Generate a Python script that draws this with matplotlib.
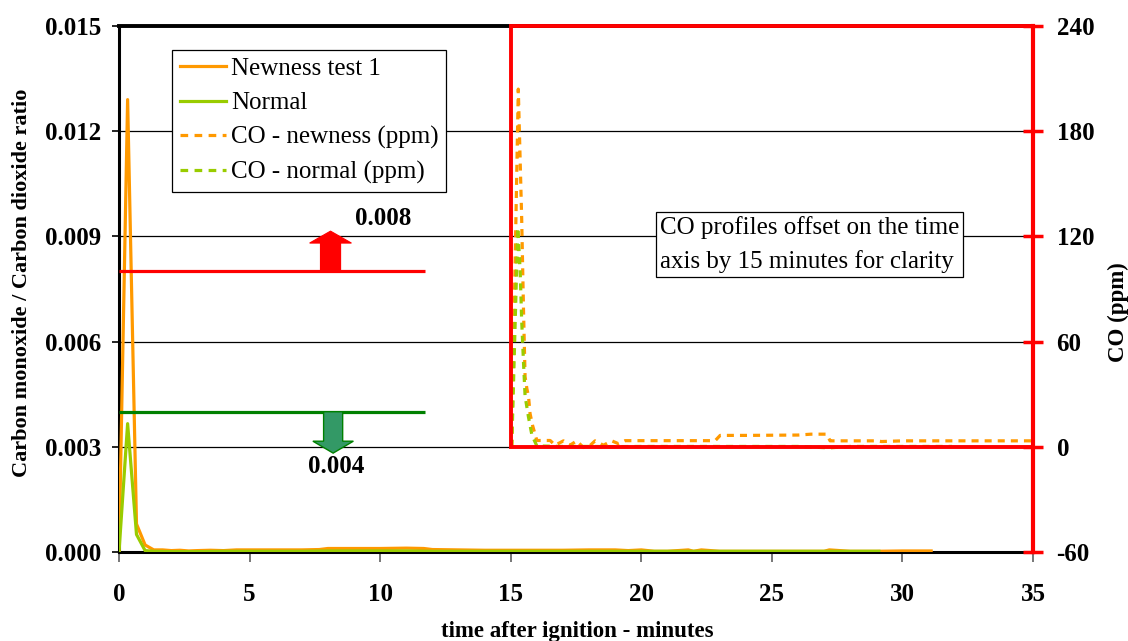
import matplotlib
matplotlib.use("Agg")
import matplotlib.pyplot as plt
from matplotlib.patches import Rectangle, FancyArrow
import numpy as np

plt.rcParams['font.family'] = ['Liberation Serif', 'DejaVu Serif']

# CO / CO2 ratio, newness test 1 (time in minutes after ignition)
newness_time = [0, 0.33, 0.67, 1.0, 1.33, 1.67, 2.0, 2.33, 2.67, 3.0, 3.5, 4.0, 4.5, 5.0,
                6.0, 7.0, 7.67, 8.0, 9.0, 10.0, 11.0, 11.67, 12.0, 13.0, 14.0, 15.0, 16.0,
                17.0, 18.0, 19.0, 19.5, 20.0, 20.5, 21.0, 21.8, 22.0, 22.3, 23.0, 24.0,
                25.0, 26.0, 27.0, 27.2, 28.0, 29.0, 30.0, 31.1]
newness_ratio = [0, 0.0129, 0.0008, 0.0002, 0.00006, 0.00006, 0.00004, 0.00005, 0.00003,
                 0.00004, 0.00005, 0.00004, 0.00006, 0.00006, 0.00006, 0.00006, 0.00007,
                 0.0001, 0.0001, 0.0001, 0.00011, 0.0001, 0.00007, 0.00006, 0.00005,
                 0.00005, 0.00005, 0.00005, 0.00006, 0.00006, 0.00004, 0.00006, 0.00002,
                 0.00002, 0.00006, 0.00002, 0.00006, 0.00002, 0.00002, 0.00002, 0.00002,
                 0.00002, 0.00006, 0.00002, 0.00002, 0.00003, 0.00003]

# CO / CO2 ratio, normal test
normal_time = [0, 0.33, 0.67, 1.0, 1.33, 2, 3, 4, 5, 6, 7, 8, 9, 10, 11, 12, 13, 14, 15,
               16, 17, 18, 19, 20, 21, 22, 23, 24, 25, 26, 27, 28, 29.1]
normal_ratio = [0, 0.00366, 0.0005, 0.00004, 0.00002, 0.00001, 0.00001, 0.00002, 0.00002,
                0.00002, 0.00002, 0.00003, 0.00003, 0.00003, 0.00003, 0.00002, 0.00002,
                0.00002, 0.00002, 0.00002, 0.00002, 0.00002, 0.00002, 0.00002, 0.00002,
                0.00002, 0.00002, 0.00002, 0.00002, 0.00002, 0.00002, 0.00002, 0.00002]

# CO concentration (ppm), newness test
co_newness_time = [0.04, 0.29, 0.42, 0.49, 0.55, 0.62, 0.68, 0.74, 0.84, 1.0, 1.25, 1.51,
                   1.70, 2.02, 2.27, 2.53, 2.78, 3.0, 3.23, 3.55, 3.87, 4.12, 4.38, 5.5,
                   6.5, 7.5, 7.83, 8.02, 9.0, 10.0, 11.0, 11.5, 12.1, 12.23, 12.3, 13.0,
                   14.0, 14.2, 15.0, 16.0, 17.0, 18.0, 19.0, 20.0]
co_newness_ppm = [0, 204, 130, 78, 40, 33, 29, 19, 12, 3.6, 3.6, 3.6, 0.9, 3.4, 0.9, 3.4,
                  -0.4, 0.2, 3.4, 0.9, 3.4, 1.8, 3.5, 3.5, 3.5, 3.5, 3.5, 6.5, 6.5, 6.6,
                  6.7, 7.2, 7.2, 3.4, 3.4, 3.4, 3.4, 3.0, 3.4, 3.4, 3.4, 3.4, 3.4, 3.4]

# CO concentration (ppm), normal test
co_normal_time = [0.04, 0.27, 0.36, 0.42, 0.49, 0.55, 0.68, 0.81, 1.0, 2.0, 3.0, 4.0, 5.0,
                  6.0, 7.0, 8.0, 9.0, 10.0, 11.0, 12.2, 13.0, 14.0, 15.0, 16.0, 16.9]
co_normal_ppm = [0, 125, 101, 72, 48, 29, 17, 6.8, 0.5, 0.2, 0.2, 0.1, 0.2, 0.2, 0.2, 0.2,
                 0.2, 0.2, 0.2, -0.6, 0.2, 0.2, 0.2, 0.2, 0.2]

co_offset = 15          # CO traces are shifted along the time axis
newness_threshold = 0.008
normal_threshold = 0.004

x_ticks = [0, 5, 10, 15, 20, 25, 30, 35]
ratio_ticks = [0.0, 0.003, 0.006, 0.009, 0.012, 0.015]
co_ticks = [-60, 0, 60, 120, 180, 240]

ORANGE = '#FF9900'
LIME = '#99CC00'
RED = '#FF0000'
GREEN = '#008000'

fig = plt.figure(figsize=(11.28, 6.41), dpi=100)
ax = fig.add_axes([119 / 1128, 1 - 552 / 641, 914 / 1128, 526 / 641])
ax2 = ax.twinx()

# ratio traces
ax.plot(newness_time, newness_ratio, color=ORANGE, lw=2.3, zorder=3,
        solid_joinstyle='round')
ax.plot(normal_time, normal_ratio, color=LIME, lw=2.3, zorder=4,
        solid_joinstyle='round')

# CO traces on the secondary axis
dash = (0, (2.2, 1.9))
ax2.plot(np.array(co_newness_time) + co_offset, co_newness_ppm, color=ORANGE, lw=2.3,
         linestyle=dash, zorder=3)
ax2.plot(np.array(co_normal_time) + co_offset, co_normal_ppm, color=LIME, lw=2.3,
         linestyle=dash, zorder=3)

# threshold lines and arrows
line_end = 11.72
ax.plot([0, line_end], [newness_threshold] * 2, color=RED, lw=2.3, zorder=5,
        solid_capstyle='butt')
ax.plot([0, line_end], [normal_threshold] * 2, color=GREEN, lw=2.3, zorder=5,
        solid_capstyle='butt')
ax.add_patch(FancyArrow(8.1, newness_threshold, 0, 0.00115, width=0.77,
                        head_width=1.6, head_length=0.00034,
                        length_includes_head=True, fc=RED, ec=RED, lw=0.8, zorder=6))
ax.add_patch(FancyArrow(8.2, normal_threshold, 0, -0.00118, width=0.73,
                        head_width=1.55, head_length=0.00034,
                        length_includes_head=True, fc='#339966', ec=GREEN, lw=1.0,
                        zorder=6))
ax.text(10.1, 0.00952, '0.008', fontsize=18, fontweight='bold', ha='center',
        va='center', zorder=7)
ax.text(8.3, 0.00245, '0.004', fontsize=18, fontweight='bold', ha='center',
        va='center', zorder=7)

# axes limits and ticks
ax.set_xlim(0, 35)
ax.set_ylim(0, 0.015)
ax2.set_ylim(-60, 240)
ax.set_xticks(x_ticks)
ax.set_xticklabels([str(t) for t in x_ticks])
ax.set_yticks(ratio_ticks)
ax.set_yticklabels([f'{v:.3f}' for v in ratio_ticks])
ax2.set_yticks(co_ticks)
ax2.set_yticklabels([str(v) for v in co_ticks])

for lab in ax.get_xticklabels() + ax.get_yticklabels() + ax2.get_yticklabels():
    lab.set_fontweight('bold')
    lab.set_fontsize(18)

ax.tick_params(axis='x', direction='out', length=7, width=1.2, color='#606060', pad=15)
ax.tick_params(axis='y', direction='out', length=5, width=1.2, color='black', pad=8)
ax2.tick_params(axis='y', direction='inout', length=14, width=2.5, color=RED, pad=10)

ax.yaxis.grid(True, color='black', lw=0.9)
ax.set_axisbelow(True)

ax.spines['left'].set_linewidth(2.2)
ax.spines['top'].set_linewidth(2.8)
ax.spines['bottom'].set_linewidth(2.2)
ax.spines['right'].set_visible(False)
for s in ('left', 'top', 'bottom'):
    ax2.spines[s].set_visible(False)
ax2.spines['right'].set_color(RED)
ax2.spines['right'].set_linewidth(3)

# highlighted CO window
ax2.add_patch(Rectangle((co_offset, 0), 35 - co_offset, 240, fill=False, ec=RED, lw=2.8,
                        clip_on=False, zorder=8))

# note box
ax2.text(0.7555, 0.5846, 'CO profiles offset on the time\naxis by 15 minutes for clarity',
         transform=ax2.transAxes, fontsize=18, ha='center', va='center',
         multialignment='left', linespacing=1.62, zorder=9,
         bbox=dict(boxstyle='square,pad=0.15', fc='white', ec='black', lw=0.9))

# legend
handles = [
    plt.Line2D([], [], color=ORANGE, lw=2.3),
    plt.Line2D([], [], color=LIME, lw=2.3),
    plt.Line2D([], [], color=ORANGE, lw=2.3, linestyle=(0, (2.4, 2.0))),
    plt.Line2D([], [], color=LIME, lw=2.3, linestyle=(0, (2.4, 2.0))),
]
labels = ['Newness test 1', 'Normal', 'CO - newness (ppm)', 'CO - normal (ppm)']
leg = ax2.legend(handles, labels, loc='upper left', bbox_to_anchor=(0.058, 0.954),
                 borderaxespad=0, fontsize=18, frameon=True, fancybox=False,
                 framealpha=1, edgecolor='black', handlelength=1.85,
                 handletextpad=0.2, labelspacing=0.47, borderpad=0.3)
leg.get_frame().set_linewidth(0.9)
leg.set_zorder(10)

# axis titles
fig.text(577 / 1128, 1 - 631 / 641, 'time after ignition - minutes', fontsize=16.5,
         fontweight='bold', ha='center', va='center')
fig.text(22 / 1128, 1 - 283 / 641, 'Carbon monoxide / Carbon dioxide ratio', fontsize=16,
         fontweight='bold', ha='center', va='center', rotation=90)
fig.text(1118 / 1128, 1 - 312 / 641, 'CO (ppm)', fontsize=16.5, fontweight='bold',
         ha='center', va='center', rotation=90)

fig.savefig('out.png', dpi=100)
